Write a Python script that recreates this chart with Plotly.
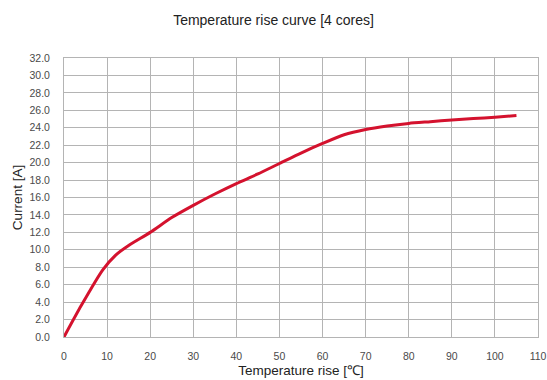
import plotly.graph_objects as go

temp_rise = [0, 4, 9, 12, 15, 20, 25, 30, 35, 40, 45, 50, 55, 60, 65, 70, 75, 80, 85, 90, 95, 100, 105]
current = [0.0, 3.6, 7.7, 9.4, 10.5, 12.0, 13.7, 15.1, 16.4, 17.6, 18.7, 19.9, 21.1, 22.2, 23.2, 23.8, 24.2, 24.5, 24.7, 24.9, 25.05, 25.2, 25.4]

x_ticks = list(range(0, 111, 10))
y_ticks = [i * 2 for i in range(17)]

fig = go.Figure()
fig.add_trace(go.Scatter(x=temp_rise, y=current, mode="lines",
                         line=dict(color="#d4122e", width=3, shape="spline", smoothing=0.6)))

fig.update_layout(
    width=547, height=380,
    margin=dict(l=64, r=9, t=58, b=43),
    paper_bgcolor="white", plot_bgcolor="white",
    showlegend=False,
    font=dict(family="Liberation Sans, Arial, sans-serif", size=13, color="#222"),
    title=dict(text="Temperature rise curve [4 cores]", x=0.5, xanchor="center",
               y=1 - 20 / 380, yanchor="middle", font=dict(size=14, color="#222")),
)
fig.update_xaxes(range=[0, 110], tickvals=x_ticks, showgrid=True, gridcolor="#b4b4b4", gridwidth=1,
                 showline=True, linecolor="#b4b4b4", mirror=True, zeroline=False, automargin=False,
                 tickfont=dict(size=10.5, color="#4a4a4a"), ticks="", ticklabelstandoff=9,
                 title=dict(text="Temperature rise [℃]", standoff=4, font=dict(size=13.5, color="#222")))
fig.update_yaxes(range=[0, 32], tickvals=y_ticks, tickformat=".1f", showgrid=True, gridcolor="#b4b4b4", gridwidth=1,
                 showline=True, linecolor="#b4b4b4", mirror=True, zeroline=False, automargin=False,
                 tickfont=dict(size=10.5, color="#4a4a4a"), ticks="", ticklabelstandoff=11,
                 title=dict(text="Current [A]", standoff=3, font=dict(size=13.5, color="#222")))

fig.write_html("out.html", config={"displayModeBar": False},
               post_script="document.body.style.margin='0';")
